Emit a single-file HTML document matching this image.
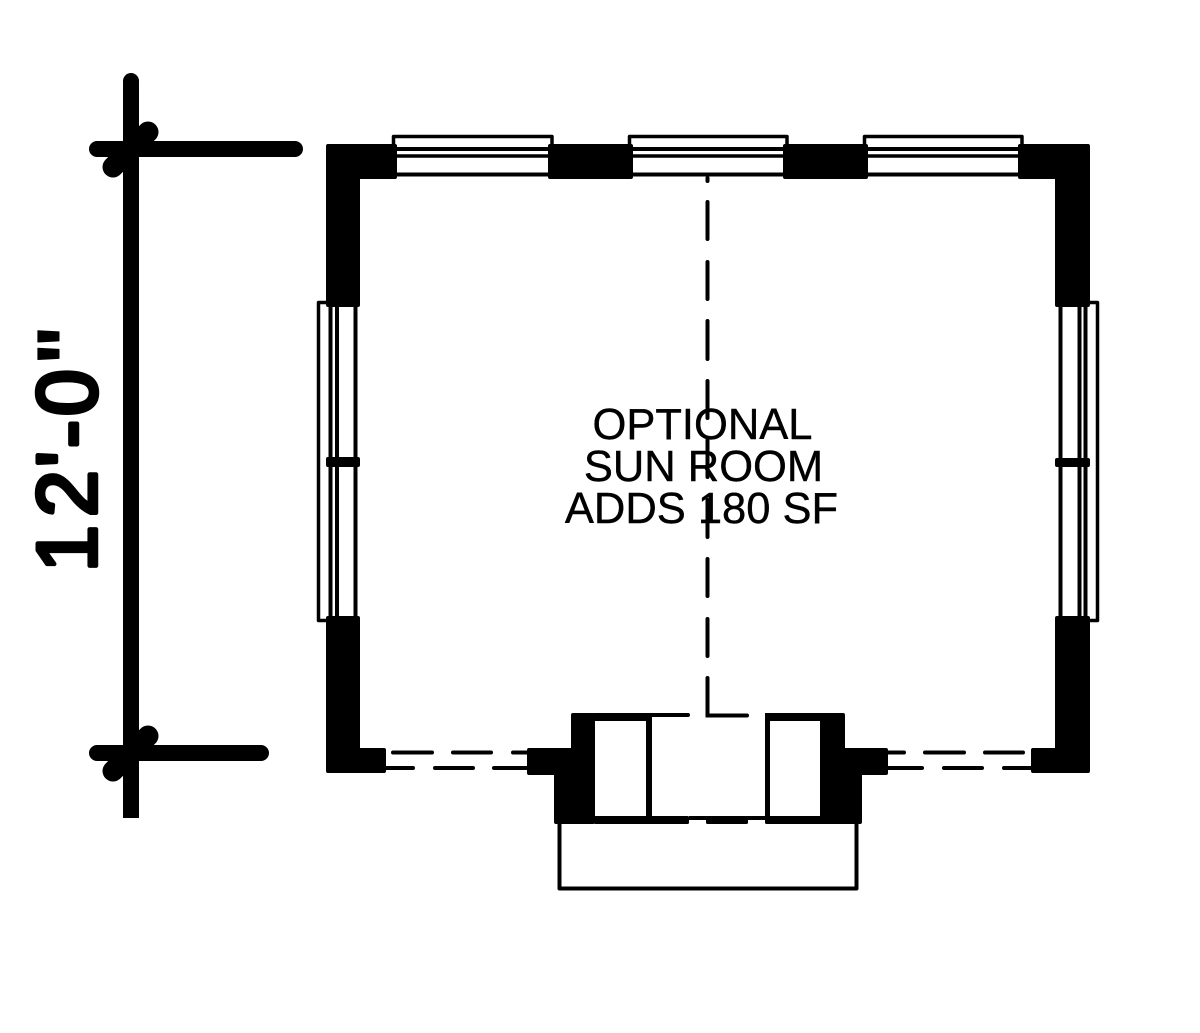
<!DOCTYPE html>
<html>
<head>
<meta charset="utf-8">
<style>
html,body{margin:0;padding:0;background:#fff;width:1200px;height:1033px;overflow:hidden}
svg{display:block}
</style>
</head>
<body>
<svg width="1200" height="1033" viewBox="0 0 1200 1033" xmlns="http://www.w3.org/2000/svg">
<rect width="1200" height="1033" fill="#fff"/>

<!-- dimension -->
<g stroke="#000" fill="none">
  <path d="M131 81V818" stroke-width="16"/>
  <path d="M131 81V90" stroke-width="16" stroke-linecap="round"/>
  <path d="M97 149H295M97 753H261" stroke-width="16" stroke-linecap="round"/>
  <path d="M148 132L113 167M148 736L113 771" stroke-width="21" stroke-linecap="round"/>
</g>
<text transform="translate(96 568) rotate(-90)" font-family="'Liberation Sans',sans-serif" font-size="84" fill="#000" stroke="#000" stroke-width="4.500" stroke-linejoin="round"><tspan x="-4">1</tspan><tspan x="51">2</tspan><tspan x="101">'</tspan><tspan x="120">-</tspan><tspan x="152">0</tspan><tspan x="203" font-weight="bold" stroke-width="1">"</tspan></text>

<!-- windows -->
<g stroke="#000" fill="none" stroke-linejoin="round">
  <g stroke-width="3.5">
    <path d="M393.500 146V136.500H552V146M629.500 146V136.500H787V146M864.500 146V136.500H1022V146"/>
    <path d="M397 149H549M633 149H784M868 149H1019" stroke-width="4"/>
    <path d="M397 156H549M633 156H784M868 156H1019"/>
    <path d="M397 174.500H549M633 174.500H784M868 174.500H1019" stroke-width="4"/>

    <path d="M326 302.500H318.500V620.500H327"/>
    <path d="M330.500 306V617M337 306V617" stroke-width="4"/>
    <path d="M355.500 306V617" stroke-width="4"/>

    <path d="M1089 302.500H1097.500V620.500H1089"/>
    <path d="M1060.500 306V617" stroke-width="4"/>
    <path d="M1079.500 306V617M1085.500 306V617" stroke-width="4"/>

    <path d="M559.500 824V888.500H856.500V824" stroke-width="4"/>
  </g>
</g>

<!-- walls -->
<g fill="#000" stroke="#000" stroke-width="4" stroke-linejoin="round">
  <path d="M328 146H395V177H358V305H328Z"/>
  <path d="M1088 146H1020V177H1057V305H1088Z"/>
  <rect x="550" y="146" width="81" height="31"/>
  <rect x="785" y="146" width="81" height="31"/>
  <rect x="328" y="459" width="30" height="6"/>
  <rect x="1057" y="460" width="31" height="5"/>
  <path d="M328 618H358V750H384V771H328Z"/>
  <path d="M1088 618H1057V750H1033V771H1088Z"/>
  <!-- bay -->
  <path d="M573 715H593V822H556V773H529V750H573Z"/>
  <path d="M843 715H822V822H860V773H886V750H843Z"/>
</g>
<g fill="#000">
  <rect x="594" y="713" width="58" height="8"/>
  <rect x="650" y="713" width="39" height="4" rx="1.500"/>
  <rect x="646" y="713" width="6" height="110"/>
  <rect x="594" y="816" width="95" height="8" rx="1.500"/>
  <rect x="689" y="816" width="76" height="4"/>
  <rect x="706" y="816" width="42" height="8" rx="1.500"/>
  <rect x="765" y="816" width="60" height="8" rx="1.500"/>
  <rect x="765" y="713" width="60" height="8" rx="1.500"/>
  <rect x="765" y="713" width="5" height="110"/>
</g>

<!-- dashed lines -->
<g stroke="#000" stroke-width="4" fill="none" stroke-linecap="round">
  <path d="M707.500 178V181M707.500 202V239M707.500 262V299M707.500 321V359M707.500 381V418M707.500 440V477M707.500 500V537M707.500 559V596M707.500 619V656M707.500 678V715.500H747M652 715H688"/>
  <path d="M393 752.500H432M453 752.500H491M513 752.500H530"/>
  <path d="M386 768H413M435 768H473M494 768H530"/>
  <path d="M888 752.500H904M925 752.500H964M985 752.500H1023"/>
  <path d="M888 768H922M944 768H982M1004 768H1032"/>
</g>

<!-- label -->
<g font-family="'Liberation Sans',sans-serif" font-size="43.500" fill="#000" stroke="#000" stroke-width="0.4" text-anchor="middle">
  <text x="702.500" y="439">OPTIONAL</text>
  <text x="703.500" y="481">SUN ROOM</text>
  <text x="701.500" y="523">ADDS 180 SF</text>
</g>
</svg>
</body>
</html>
